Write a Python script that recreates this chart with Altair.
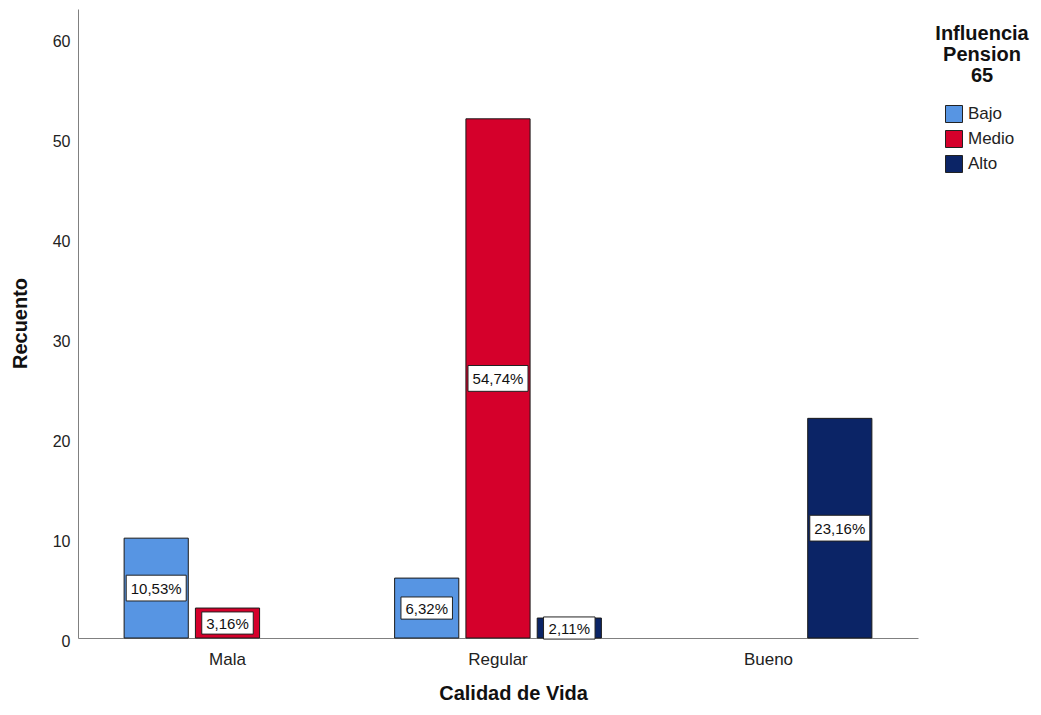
import altair as alt
import pandas as pd

# ---- data ----
categories = ["Mala", "Regular", "Bueno"]
series = ["Bajo", "Medio", "Alto"]
calidad = ["Mala", "Mala", "Regular", "Regular", "Regular", "Bueno"]
influencia = ["Bajo", "Medio", "Bajo", "Medio", "Alto", "Alto"]
recuento = [10, 3, 6, 52, 2, 22]
total = 95
y_ticks = [0, 10, 20, 30, 40, 50, 60]
legend_title_lines = ["Influencia", "Pension", "65"]
colors = ["#5795E3", "#D5002B", "#0B2466"]

labels = [f"{v / total * 100:.2f}".replace(".", ",") + "%" for v in recuento]
df = pd.DataFrame({"calidad": calidad, "influencia": influencia,
                   "recuento": recuento, "label": labels})

FONT = "Liberation Sans"

x_enc = alt.X("calidad:N", sort=categories,
              scale=alt.Scale(domain=categories, paddingInner=0, paddingOuter=0.0527),
              axis=alt.Axis(title="Calidad de Vida", labelAngle=0, ticks=False, tickSize=0,
                            labelFont=FONT, labelFontSize=17, labelColor="#222",
                            labelPadding=13, domainColor="#808080", domainWidth=1,
                            titleFont=FONT, titleFontSize=20, titleFontWeight="bold",
                            titleColor="#111", titleX=435, titleY=55,
                            titleAlign="center", titleBaseline="middle"))
xo_enc = alt.XOffset("influencia:N",
                     scale=alt.Scale(domain=series, paddingInner=0.1, paddingOuter=0.447))

y_scale = alt.Scale(domain=[0, 63], nice=False)
y_axis = alt.Axis(title="Recuento", values=y_ticks, grid=False, ticks=False, tickSize=0,
                  labelFont=FONT, labelFontSize=16, labelColor="#222", labelPadding=8,
                  labelOffset=3,
                  domainColor="#808080", domainWidth=1,
                  titleFont=FONT, titleFontSize=20, titleFontWeight="bold",
                  titleColor="#111", titleX=-58, titleY=314,
                  titleAlign="center", titleBaseline="middle")

base = alt.Chart(df).encode(x=x_enc, xOffset=xo_enc)

bars = base.mark_bar(stroke="#1a1a1a", strokeWidth=1, opacity=1).encode(
    y=alt.Y("recuento:Q", scale=y_scale, axis=y_axis),
    color=alt.Color("influencia:N", scale=alt.Scale(domain=series, range=colors),
                    legend=alt.Legend(title=None, orient="none", legendX=867, legendY=96,
                                      symbolType="square", symbolSize=289,
                                      symbolStrokeColor="#222", symbolStrokeWidth=1,
                                      symbolOpacity=1, labelFont=FONT, labelFontSize=17,
                                      labelColor="#222", labelOffset=5, rowPadding=3)),
)

boxes = base.transform_calculate(
    mid="datum.recuento / 2",
    bsize="pow(length(datum.label) * 8.5 + 9, 2)",
).mark_point(shape="M-1,-0.43L1,-0.43L1,0.43L-1,0.43Z", fill="white", fillOpacity=1,
             stroke="#222", strokeWidth=1, opacity=1).encode(
    y=alt.Y("mid:Q", scale=y_scale, axis=y_axis),
    size=alt.Size("bsize:Q", scale=None),
)

texts = base.transform_calculate(mid="datum.recuento / 2").mark_text(
    font=FONT, fontSize=15, color="#111", align="center", baseline="middle", dy=1
).encode(
    y=alt.Y("mid:Q", scale=y_scale, axis=y_axis),
    text="label:N",
)

leg_title = alt.Chart(pd.DataFrame({"k": [0]})).mark_text(
    text=legend_title_lines, font=FONT, fontSize=20, fontWeight="bold", color="#111",
    align="center", baseline="alphabetic", lineHeight=21
).encode(x=alt.value(904), y=alt.value(31))

chart = alt.layer(bars, boxes, texts, leg_title).properties(
    width=840, height=629,
    autosize=alt.AutoSizeParams(type="none"),
    padding={"left": 70, "top": 1, "right": 112, "bottom": 68},
    background="white",
).configure_view(stroke=None)

chart.save("out.html", embed_options={"renderer": "svg", "actions": False})
